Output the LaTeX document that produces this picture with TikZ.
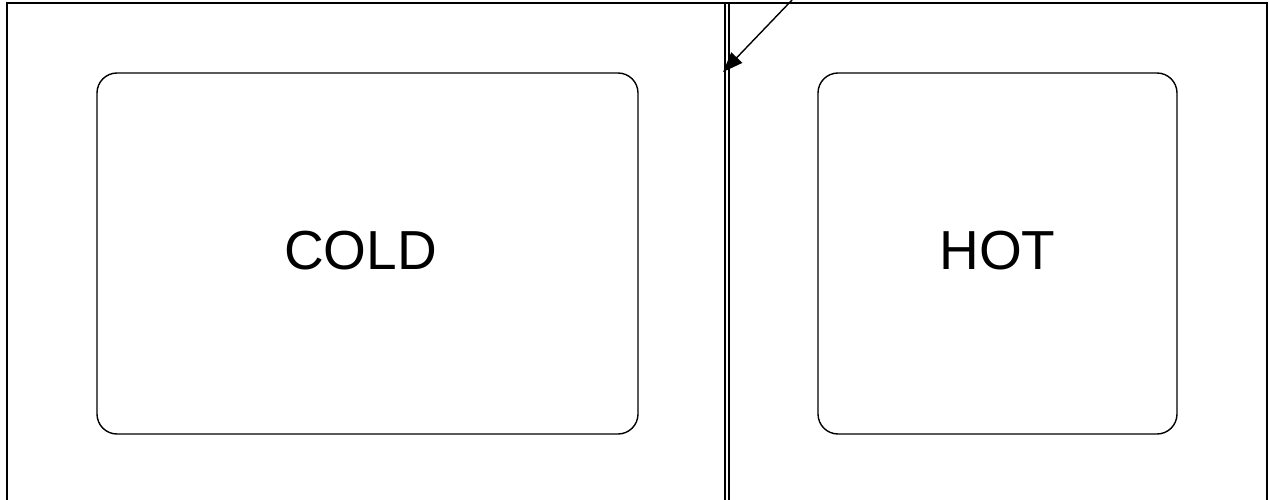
\documentclass[tikz,border=0pt]{standalone}
\usepackage{fontspec}
\setmainfont{Liberation Sans}
\usetikzlibrary{arrows.meta}

\tikzset{
	room/.style={draw, line width=1.4pt, rounded corners=20pt, inner sep=0pt},
	roomname/.style={font=\fontsize{55}{66}\selectfont},
	wall/.style={line width=1.4pt}
}

\begin{document}
\begin{tikzpicture}[x=1pt, y=-1pt]
		\useasboundingbox (0, 0) rectangle (1269, 500);
		% outer frame, open at the bottom
		\draw[wall] (7, 500) -- (7, 3) -- (1267, 3) -- (1267, 500);
		% the wall between both sides
		\draw[wall] (725, 3) -- (725, 500);
		\draw[wall] (729, 3) -- (729, 500);
		
		\node[room, minimum width=541pt, minimum height=361pt,
			label={[roomname, xshift=-7pt, yshift=3pt]center:COLD}] (cold) at (367.5, 253.5) {};
		\node[room, minimum width=359pt, minimum height=361pt,
			label={[roomname, yshift=3pt]center:HOT}] (hot) at (997.5, 253.5) {};
		
		\coordinate (tail) at (792, 0);
		\coordinate (tip) at (723, 72);
		\draw[line width=1.4pt, -{Triangle[length=20pt, width=15pt]}] (tail) -- (tip);
		\end{tikzpicture}
\end{document}
